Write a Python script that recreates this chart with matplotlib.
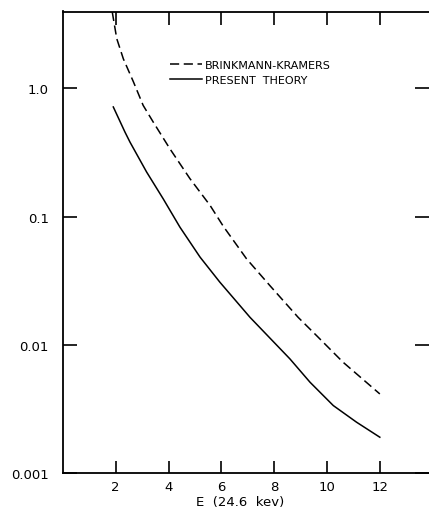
import matplotlib
matplotlib.use("Agg")
import matplotlib.pyplot as plt

# Brinkmann-Kramers curve (dashed)
bk_E = [1.87, 2.04, 2.29, 2.67, 3.04, 3.42, 4.05, 4.81, 5.57, 6.07,
        6.95, 7.83, 8.90, 9.60, 10.60, 11.99]
bk_y = [3.92, 2.43, 1.69, 1.12, 0.733, 0.544, 0.337, 0.197, 0.122, 0.0839,
        0.0468, 0.029, 0.0164, 0.0118, 0.00733, 0.00415]

# present theory (solid)
pt_E = [1.91, 2.35, 2.54, 3.17, 3.80, 4.43, 5.19, 5.94, 7.08, 8.59,
        9.35, 10.23, 11.11, 11.99]
pt_y = [0.713, 0.455, 0.380, 0.222, 0.137, 0.0826, 0.0483, 0.0308, 0.0164,
        0.00778, 0.00512, 0.00337, 0.0025, 0.00191]

x_ticks = [2, 4, 6, 8, 10, 12]
y_ticks = [0.001, 0.01, 0.1, 1.0]
y_labels = ["0.001", "0.01", "0.1", "1.0"]

plt.rcParams['font.family'] = ['DejaVu Sans']

fig = plt.figure(figsize=(4.29, 5.10), dpi=100)
W, H = 429, 510
ax = fig.add_axes([62.8 / W, 1 - 474.3 / H, 1 - 62.8 / W, (474.3 - 12.5) / H])

ax.plot(bk_E, bk_y, color='black', lw=1.1, dashes=(6, 3),
        solid_joinstyle='round', label='BRINKMANN-KRAMERS')
ax.plot(pt_E, pt_y, color='black', lw=1.1, solid_joinstyle='round',
        label='PRESENT  THEORY')

ax.set_yscale('log')
ax.set_xlim(0, 13.85)
ax.set_ylim(0.001, 3.95)

ax.set_xticks(x_ticks)
ax.set_xticklabels([str(t) for t in x_ticks], fontsize=9.5)
ax.set_yticks(y_ticks)
ax.set_yticklabels(y_labels, fontsize=9.5)
ax.minorticks_off()

ax.tick_params(axis='x', direction='in', length=9, width=1.2, top=True, pad=5)
ax.tick_params(axis='y', direction='in', length=10, width=1.2, right=True, pad=10)

for side in ['left', 'bottom', 'top']:
    ax.spines[side].set_linewidth(1.3)
ax.spines['right'].set_visible(False)

fig.text(240 / W, 1 - 503 / H, "E  (24.6  kev)", ha='center', va='center', fontsize=9.5)

ax.legend(loc='upper left', bbox_to_anchor=(0.278, 0.907), frameon=False,
          fontsize=8, handlelength=2.9, handletextpad=0.25, borderpad=0,
          labelspacing=0.45)

fig.savefig("out.png", dpi=100)
